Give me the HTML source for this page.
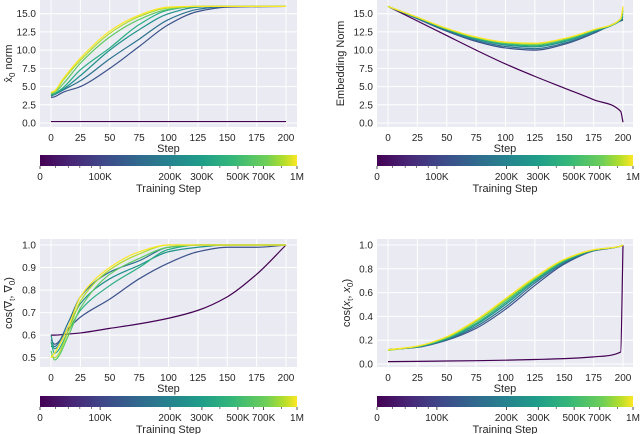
<!DOCTYPE html>
<html><head><meta charset="utf-8"><style>
body{margin:0;background:#fff}
svg{display:block;font-family:"Liberation Sans","DejaVu Sans",sans-serif}
</style></head><body>
<svg id="fig" width="640" height="434" viewBox="0 0 640 434" xmlns="http://www.w3.org/2000/svg">
<defs><linearGradient id="vir" x1="0" x2="1" y1="0" y2="0">
<stop offset="0" stop-color="#440154"/><stop offset="0.13" stop-color="#482878"/><stop offset="0.25" stop-color="#3e4989"/><stop offset="0.38" stop-color="#31688e"/><stop offset="0.5" stop-color="#26828e"/><stop offset="0.63" stop-color="#1f9e89"/><stop offset="0.75" stop-color="#35b779"/><stop offset="0.88" stop-color="#6ece58"/><stop offset="0.95" stop-color="#b5de2b"/><stop offset="1" stop-color="#fde725"/></linearGradient></defs>
</svg>
<script>
// Shared
const colors = ["#440154","#3b528b","#2c728e","#21918c","#28ae80","#5ec962","#addc30","#fde725"];
const cbTickLabels = ["0","100K","200K","300K","500K","700K","1M"];
const cbTickFrac = [0,0.234,0.506,0.63,0.77,0.87,1.0];
const cbMinorFrac = [0.06,0.11,0.155,0.20,0.70,0.83,0.94];
const xTicks = [0,25,50,75,100,125,150,175,200];

// Panel A: x0 norm
const stepsA = [0,3,10,25,50,75,100,125,150,200];
const seriesA = [
 [0.2,0.2,0.2,0.2,0.2,0.2,0.2,0.2,0.2,0.2],
 [3.5,3.6,4.2,5.0,7.5,10.5,13.5,15.3,15.9,16],
 [3.7,3.9,4.5,5.8,8.8,11.5,14.2,15.6,16,16],
 [3.9,4.0,4.6,6.5,10.0,12.8,15.0,15.9,16,16],
 [3.8,4.0,4.8,7.3,10.3,13.5,15.5,16,16,16],
 [4.0,4.2,5.3,8.2,11.8,14.2,15.6,16,16,16],
 [4.1,4.3,5.8,8.6,12.3,14.6,15.8,16,16,16],
 [4.2,4.4,6.0,8.9,12.6,14.8,15.9,16,16,16]];
const yTicksA = [0,2.5,5,7.5,10,12.5,15];
const yLabelsA = ["0.0","2.5","5.0","7.5","10.0","12.5","15.0"];

// Panel B: embedding norm
const stepsB = [0,25,50,75,100,125,150,175,198,200];
const seriesB = [
 [16,14.0,12.0,10.0,8.1,6.4,4.8,3.2,1.6,0.1],
 [16,14.3,12.6,11.2,10.3,10.0,10.8,12.3,14.0,14.1],
 [16,14.35,12.7,11.35,10.5,10.2,10.95,12.4,14.05,14.3],
 [16,14.4,12.8,11.5,10.7,10.45,11.15,12.55,14.1,14.6],
 [16,14.45,12.85,11.6,10.85,10.6,11.3,12.65,14.2,15.0],
 [16,14.5,12.9,11.7,10.95,10.75,11.45,12.72,14.25,15.4],
 [16,14.5,12.95,11.75,11.05,10.85,11.55,12.78,14.28,15.7],
 [16,14.5,13.0,11.8,11.1,10.95,11.6,12.8,14.3,16]];

// Panel C: cos grad
const stepsC = [0,3,15,25,50,75,100,125,150,175,200];
const seriesC = [
 [0.6,0.6,0.605,0.61,0.63,0.65,0.675,0.71,0.77,0.87,1.0],
 [0.58,0.56,0.63,0.68,0.76,0.85,0.92,0.97,0.99,0.99,1.0],
 [0.55,0.55,0.66,0.77,0.88,0.93,0.99,1,1,1,1],
 [0.6,0.54,0.64,0.74,0.85,0.91,0.97,0.99,1,1,1],
 [0.57,0.52,0.62,0.71,0.82,0.9,0.98,1,1,1,1],
 [0.53,0.49,0.6,0.72,0.87,0.94,0.99,1,1,1,1],
 [0.51,0.5,0.62,0.75,0.89,0.96,1,1,1,1,1],
 [0.5,0.52,0.64,0.77,0.9,0.97,1,1,1,1,1]];
const yTicksC = [0.5,0.6,0.7,0.8,0.9,1.0];

// Panel D: cos(xt,x0)
const stepsD = [0,25,50,75,100,125,150,175,198,200];
const seriesD = [
 [0.02,0.022,0.025,0.028,0.032,0.038,0.045,0.06,0.1,1.0],
 [0.12,0.14,0.2,0.3,0.46,0.66,0.84,0.95,0.99,1.0],
 [0.12,0.142,0.205,0.315,0.48,0.68,0.85,0.952,0.99,1.0],
 [0.12,0.144,0.21,0.33,0.5,0.695,0.86,0.955,0.99,1.0],
 [0.12,0.146,0.215,0.34,0.515,0.705,0.865,0.957,0.99,1.0],
 [0.115,0.148,0.22,0.355,0.53,0.715,0.872,0.958,0.99,1.0],
 [0.115,0.149,0.225,0.362,0.54,0.722,0.876,0.959,0.99,1.0],
 [0.12,0.15,0.23,0.37,0.55,0.73,0.88,0.96,0.99,1.0]];
const yTicksD = [0,0.2,0.4,0.6,0.8,1.0];

const NS="http://www.w3.org/2000/svg";
const svg=document.getElementById('fig');
function mk(tag,attrs,parent){const e=document.createElementNS(NS,tag);for(const k in attrs)e.setAttribute(k,attrs[k]);(parent||svg).appendChild(e);return e;}
// monotone cubic (Fritsch-Carlson) to avoid overshoot
function smooth(pts){
 const n=pts.length,dx=[],m=[],t=[];
 for(let i=0;i<n-1;i++){dx[i]=pts[i+1][0]-pts[i][0];m[i]=(pts[i+1][1]-pts[i][1])/dx[i];}
 t[0]=m[0];t[n-1]=m[n-2];
 for(let i=1;i<n-1;i++){if(m[i-1]*m[i]<=0)t[i]=0;else{const w1=2*dx[i]+dx[i-1],w2=dx[i]+2*dx[i-1];t[i]=(w1+w2)/(w1/m[i-1]+w2/m[i]);}}
 let d="M"+pts[0][0].toFixed(2)+","+pts[0][1].toFixed(2);
 for(let i=0;i<n-1;i++){const h=dx[i]/3;
  d+=" C"+(pts[i][0]+h).toFixed(2)+","+(pts[i][1]+t[i]*h).toFixed(2)+" "+(pts[i+1][0]-h).toFixed(2)+","+(pts[i+1][1]-t[i+1]*h).toFixed(2)+" "+pts[i+1][0].toFixed(2)+","+pts[i+1][1].toFixed(2);}
 return d;}

function panel(cfg){
 const g=mk('g',{});
 
 
 const X=v=>cfg.x0+(v-0)/200*(cfg.x200-cfg.x0);
 const Y=v=>cfg.yA+(v-cfg.vA)/(cfg.vB-cfg.vA)*(cfg.yB-cfg.yA);
 const bg=mk('rect',{x:cfg.L,y:cfg.T,width:cfg.R-cfg.L,height:cfg.B-cfg.T,fill:'#eaeaf2'},g);
 
 
 xTicks.forEach(t=>{mk('line',{x1:X(t),x2:X(t),y1:cfg.T,y2:cfg.B,stroke:'#fff','stroke-width':1},g);
  const tx=mk('text',{x:X(t),y:cfg.B+14,'font-size':10,'text-anchor':'middle',fill:'#262626'},g);tx.textContent=t;
  
  });
 cfg.yt.forEach((t,i)=>{mk('line',{x1:cfg.L,x2:cfg.R,y1:Y(t),y2:Y(t),stroke:'#fff','stroke-width':1},g);
  const tx=mk('text',{x:cfg.L-4,y:Y(t)+3.5,'font-size':10,'text-anchor':'end',fill:'#262626'},g);tx.textContent=cfg.yl?cfg.yl[i]:t.toFixed(1);
  
  });
 cfg.series.forEach((s,k)=>{const pts=s.map((v,i)=>[X(cfg.steps[i]),Y(v)]);
  const p=mk('path',{d:smooth(pts),fill:'none',stroke:colors[k],'stroke-width':1.2},g);
  
  });
 const xl=mk('text',{x:(cfg.L+cfg.R)/2,y:cfg.B+25,'font-size':11,'text-anchor':'middle',fill:'#262626'},g);xl.textContent='Step';
 
 
 const yl=mk('text',{x:0,y:0,'font-size':11,'text-anchor':'middle',fill:'#262626',transform:`translate(${cfg.ylx},${(cfg.T+cfg.B)/2}) rotate(-90)`},g);
 yl.innerHTML=cfg.ylab;
 
 
 // colorbar
 const cb=mk('rect',{x:cfg.L,y:cfg.cbY,width:cfg.R-cfg.L,height:11,fill:'url(#vir)'},g);
 
 
 const W=cfg.R-cfg.L;
 cbTickFrac.forEach((f,i)=>{mk('line',{x1:cfg.L+f*W,x2:cfg.L+f*W,y1:cfg.cbY+11,y2:cfg.cbY+14,stroke:'#262626','stroke-width':0.8},g);
  const tx=mk('text',{x:cfg.L+f*W,y:cfg.cbY+25,'font-size':10,'text-anchor':'middle',fill:'#262626'},g);tx.textContent=cbTickLabels[i];
  
  });
 cbMinorFrac.forEach(f=>mk('line',{x1:cfg.L+f*W,x2:cfg.L+f*W,y1:cfg.cbY+11,y2:cfg.cbY+13,stroke:'#262626','stroke-width':0.6},g));
 const ct=mk('text',{x:(cfg.L+cfg.R)/2,y:cfg.cbY+37,'font-size':11,'text-anchor':'middle',fill:'#262626'},g);ct.textContent='Training Step';
 
 
}
panel({name:'x0-norm-panel',L:40,R:297,T:0,B:127,x0:51,x200:286,yA:123,vA:0,yB:13.7,vB:15,yt:yTicksA,yl:yLabelsA,series:seriesA,steps:stepsA,cbY:155,ylx:12,
 ylab:'x̂<tspan font-size="8" dy="3">0</tspan><tspan dy="-3"> norm</tspan>'});
panel({name:'embedding-norm-panel',L:377,R:633,T:0,B:127,x0:388,x200:623,yA:123,vA:0,yB:13.7,vB:15,yt:yTicksA,yl:yLabelsA,series:seriesB,steps:stepsB,cbY:155,ylx:344,
 ylab:'Embedding Norm'});
panel({name:'cos-grad-panel',L:40,R:297,T:239,B:367,x0:51,x200:286,yA:357.7,vA:0.5,yB:245,vB:1.0,yt:yTicksC,series:seriesC,steps:stepsC,cbY:396,ylx:12,
 ylab:'cos(∇<tspan font-size="8" dy="3">t</tspan><tspan dy="-3">, ∇</tspan><tspan font-size="8" dy="3">0</tspan><tspan dy="-3">)</tspan>'});
panel({name:'cos-xt-x0-panel',L:377,R:633,T:239,B:367,x0:388,x200:623,yA:364,vA:0,yB:245,vB:1.0,yt:yTicksD,series:seriesD,steps:stepsD,cbY:396,ylx:350,
 ylab:'cos(<tspan font-style="italic">x</tspan><tspan font-size="8" dy="3">t</tspan><tspan dy="-3">, </tspan><tspan font-style="italic">x</tspan><tspan font-size="8" dy="3">0</tspan><tspan dy="-3">)</tspan>'});
</script>
</body></html>
